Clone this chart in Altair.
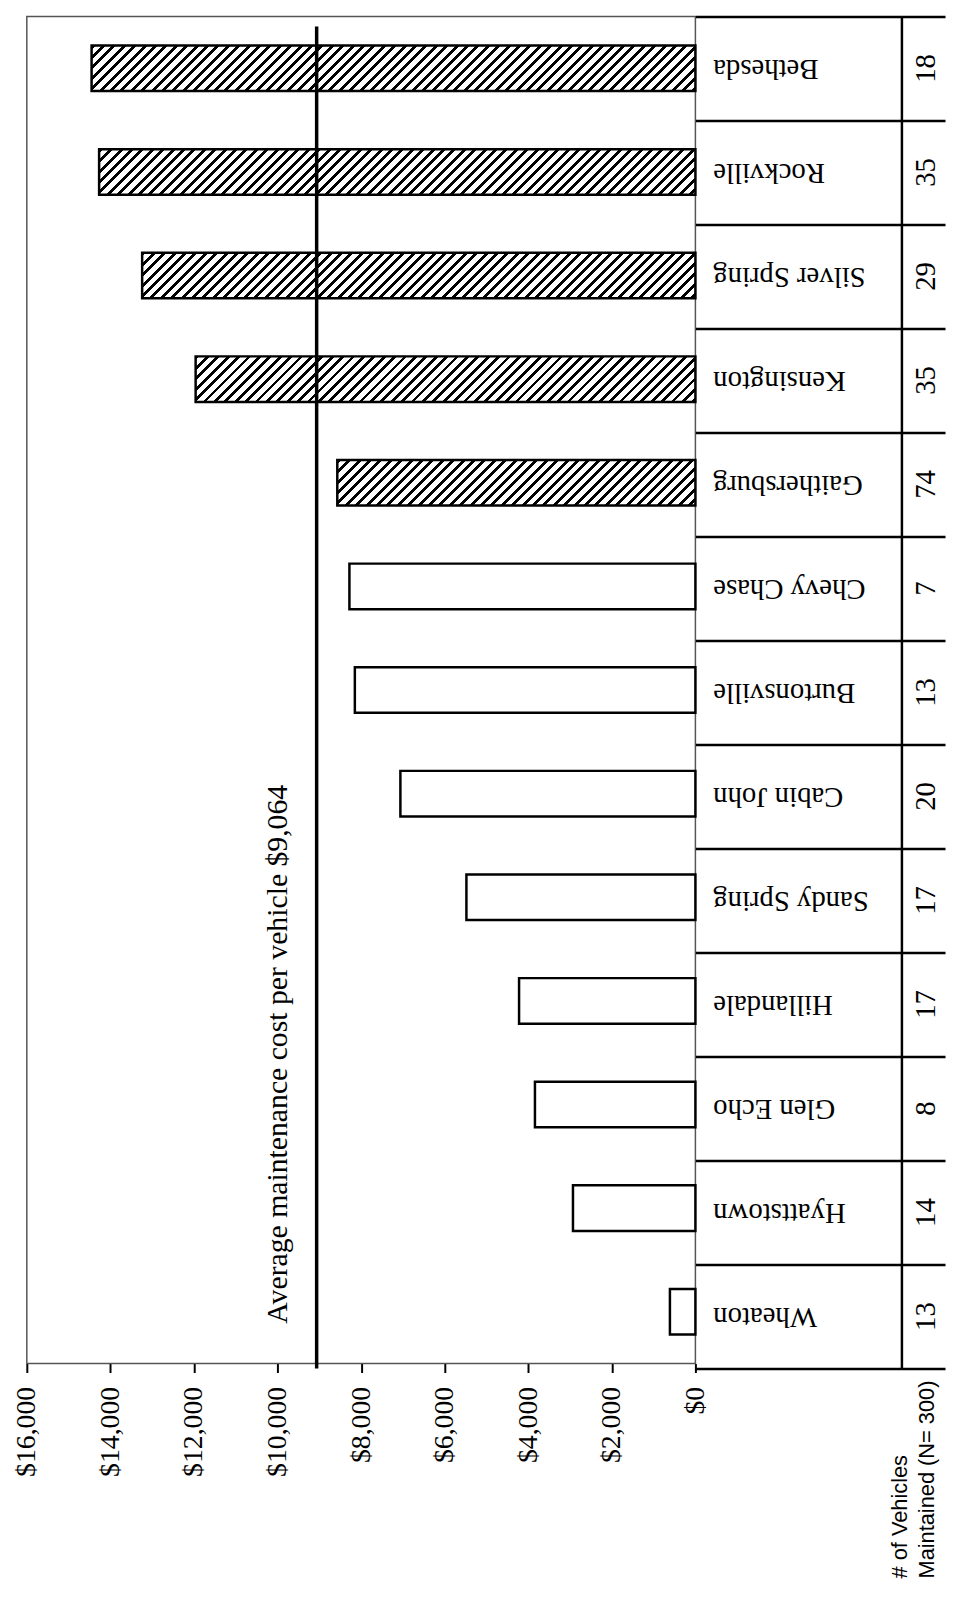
import altair as alt
import pandas as pd

# ---- data ----
cities = ["Bethesda", "Rockville", "Silver Spring", "Kensington", "Gaithersburg",
          "Chevy Chase", "Burtonsville", "Cabin John", "Sandy Spring", "Hillandale",
          "Glen Echo", "Hyattstown", "Wheaton"]
costs = [14450, 14270, 13240, 11960, 8570, 8280, 8150, 7060, 5480, 4220, 3840, 2930, 610]
vehicles = [18, 35, 29, 35, 74, 7, 13, 20, 17, 17, 8, 14, 13]
hatched = [True, True, True, True, True, False, False, False, False, False, False, False, False]
avg_cost = 9064
tick_values = [0, 2000, 4000, 6000, 8000, 10000, 12000, 14000, 16000]
note_lines = ["# of Vehicles", "Maintained (N= 300)"]

df = pd.DataFrame({"city": cities, "cost": costs, "vehicles": vehicles, "hatched": hatched})
avg_df = pd.DataFrame({"avg": [avg_cost],
                       "label": [f"Average maintenance cost per vehicle ${avg_cost:,}"],
                       "city": ["Wheaton"]})

# ---- layout / style ----
PLOT_W = 675
PLOT_H = 1360
TABLE_H = 1365
NAME_W = 208
COUNT_W = 44
BAR_SIZE = 46
SERIF = "Liberation Serif"
SANS = "Liberation Sans"
X_MAX = 16000

x_scale = alt.Scale(domain=[0, X_MAX], reverse=True, nice=False, zero=True)
x_axis = alt.Axis(values=tick_values, format="$,.0f", labelAngle=270, title=None)
band = alt.Scale(domain=cities, paddingInner=0, paddingOuter=0)
y_enc = alt.Y("city:N", scale=band, axis=None)


def stripes(value):
    """Diagonal hatch as a hard-stop linear gradient across one bar."""
    W = value / X_MAX * PLOT_W
    H = BAR_SIZE
    L = W + H
    period, black = 10.5, 4.0
    stops = []
    pos = 0.0
    while pos < L:
        a = round(pos / L, 5)
        b = round(min((pos + black) / L, 1.0), 5)
        c = round(min((pos + period) / L, 1.0), 5)
        stops += [{"offset": a, "color": "black"}, {"offset": b, "color": "black"},
                  {"offset": b, "color": "white"}, {"offset": c, "color": "white"}]
        pos += period
    r = H / W
    k = (1 + r) / (1 + r * r)
    return {"gradient": "linear", "x1": 0, "y1": 0, "x2": round(k, 5),
            "y2": round(k * r, 5), "stops": stops}


base = alt.Chart(df)

plain = base.transform_filter(alt.datum.hatched == False).mark_bar(
    fill="white", stroke="black", strokeWidth=2.5, size=BAR_SIZE
).encode(x=alt.X("cost:Q", scale=x_scale, axis=x_axis), y=y_enc)

hatch_layers = []
for c, v, h in zip(cities, costs, hatched):
    if h:
        hatch_layers.append(
            base.transform_filter(alt.datum.city == c).mark_bar(
                fill=stripes(v), stroke="black", strokeWidth=2.5, size=BAR_SIZE
            ).encode(x=alt.X("cost:Q", scale=x_scale, axis=x_axis), y=y_enc)
        )

rule = alt.Chart(avg_df).mark_rule(color="black", strokeWidth=3.5).encode(
    x=alt.X("avg:Q", scale=x_scale, axis=x_axis),
    y=alt.value(10), y2=alt.value(PLOT_H + 5)
)

avg_label = alt.Chart(avg_df).mark_text(
    angle=270, align="left", baseline="alphabetic", dy=-30, dx=-12,
    font=SERIF, fontSize=30, color="black"
).encode(
    x=alt.X("avg:Q", scale=x_scale, axis=x_axis),
    y=y_enc,
    text="label:N"
)

panel_a = alt.layer(plain, *hatch_layers, rule, avg_label).properties(
    width=PLOT_W, height=PLOT_H,
    view=alt.ViewBackground(stroke="#555", strokeWidth=1.5)
)

# ---- table: city names ----
name_axis = alt.Axis(orient="right", labels=False, ticks=False, title=None,
                     domain=True, domainColor="black", domainWidth=2.5,
                     grid=True, gridColor="black", gridWidth=2.5, tickBand="extent")
panel_b = alt.Chart(df).mark_text(
    angle=180, align="right", baseline="middle", font=SERIF, fontSize=29, color="black"
).encode(
    y=alt.Y("city:N", scale=band, axis=name_axis),
    x=alt.value(18),
    text="city:N"
).properties(width=NAME_W, height=TABLE_H,
             view=alt.ViewBackground(stroke="transparent"))

# ---- table: vehicle counts ----
count_axis = alt.Axis(orient="right", labels=False, ticks=False, title=None,
                      domain=False, grid=True, gridColor="black", gridWidth=2.5,
                      tickBand="extent")
counts = alt.Chart(df).mark_text(
    angle=270, align="center", baseline="middle", font=SERIF, fontSize=29, color="black"
).encode(
    y=alt.Y("city:N", scale=band, axis=count_axis),
    x=alt.value(25),
    text="vehicles:Q"
)
note = alt.Chart(pd.DataFrame({"n": [1]})).mark_text(
    angle=270, align="left", baseline="alphabetic", font=SANS, fontSize=22,
    lineHeight=27, color="black"
).encode(
    x=alt.value(6), y=alt.value(1577), text=alt.value(note_lines)
)
panel_c = alt.layer(counts, note).properties(
    width=COUNT_W, height=TABLE_H,
    view=alt.ViewBackground(stroke="transparent")
)

chart = alt.hconcat(panel_a, panel_b, panel_c, spacing=0, bounds="flush").resolve_scale(
    y="independent"
).properties(
    padding={"left": 4, "top": 0, "right": 0, "bottom": 0}
).configure(background="white").configure_axisBottom(
    labelFont=SERIF, labelFontSize=28, labelColor="black", labelPadding=14,
    tickColor="black", tickWidth=2, tickSize=9, domain=False, grid=False,
    labelLimit=300
)

chart.save("out.html", embed_options={"renderer": "svg", "actions": False})
